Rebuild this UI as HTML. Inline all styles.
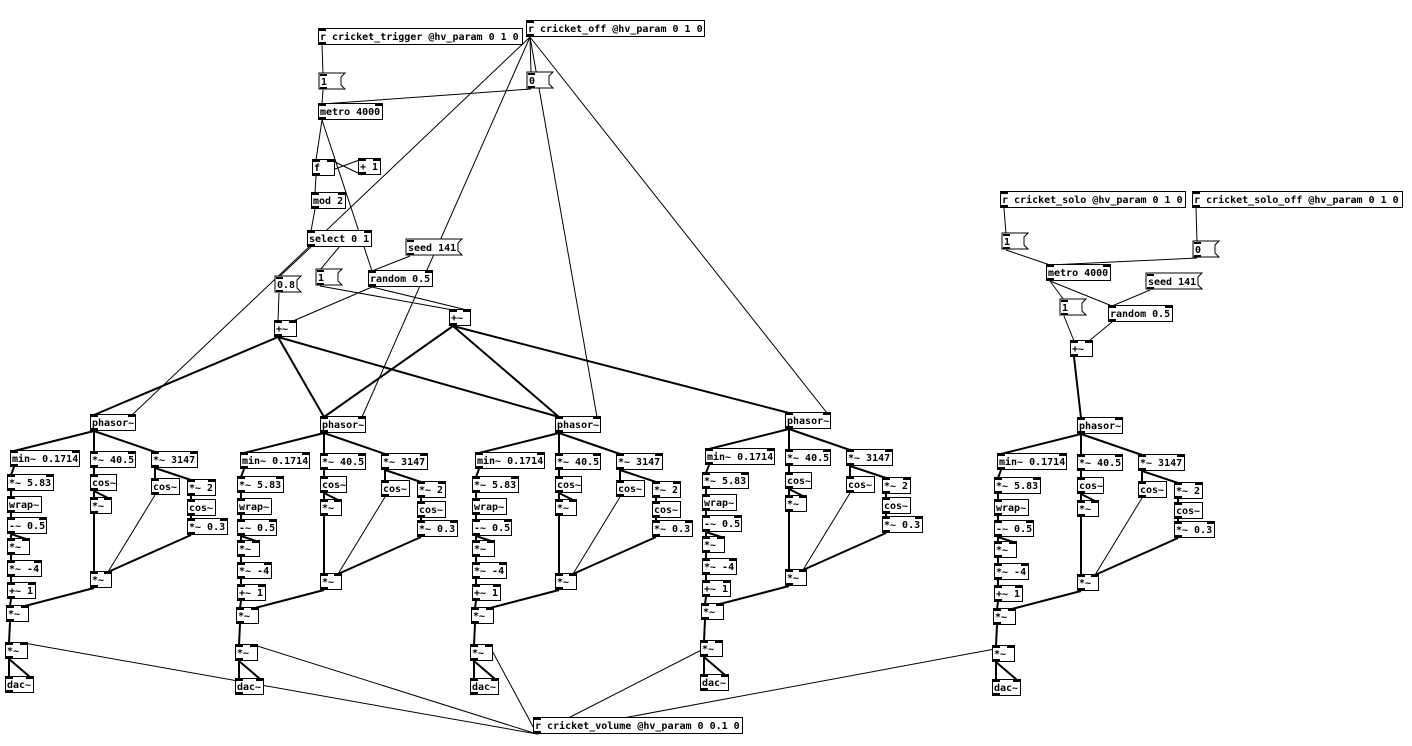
<!DOCTYPE html>
<html><head><meta charset="utf-8"><style>
html,body{margin:0;padding:0;background:#fff;width:1412px;height:746px;overflow:hidden}
svg text{font-family:"DejaVu Sans Mono","Liberation Mono",monospace;font-size:10px;font-weight:bold;fill:#000}
</style></head><body>
<svg id="s" width="1412" height="746" xmlns="http://www.w3.org/2000/svg"></svg>
<script>
var s=document.getElementById('s');var NS='http://www.w3.org/2000/svg';
var lines=[],boxes=[];
function el(t,a,txt){var e=document.createElementNS(NS,t);for(var k in a)e.setAttribute(k,a[k]);if(txt)e.textContent=txt;return e;}
var L=document.createElementNS(NS,'g'),B=document.createElementNS(NS,'g');s.appendChild(L);s.appendChild(B);
function box(x,y,w,t,msg,twoIn,h){h=h||16;var b={x:x,y:y,w:w,h:h};
 if(msg){B.appendChild(el('polygon',{points:[x,y,x+w+4,y,x+w,y+4,x+w,y+h-4,x+w+4,y+h,x,y+h].join(' '),fill:'#fff',stroke:'#000','stroke-width':1}));}
 else B.appendChild(el('rect',{x:x+.5,y:y+.5,width:w,height:h,fill:'#fff',stroke:'#000','stroke-width':1}));
 B.appendChild(el('rect',{x:x+1,y:y+1,width:7,height:2,fill:'#000'}));
 if(twoIn)B.appendChild(el('rect',{x:x+w-7,y:y+1,width:7,height:2,fill:'#000'}));
 B.appendChild(el('rect',{x:x+1,y:y+h-2,width:7,height:2,fill:'#000'}));
 B.appendChild(el('text',{x:x+2,y:y+12},t));return b;}
function ln(x1,y1,x2,y2,th){L.appendChild(el('line',{x1:x1,y1:y1,x2:x2,y2:y2,stroke:'#000','stroke-width':th?2:1}));}
function out(b){return [b.x+4,b.y+b.h+1]}
function inl(b){return [b.x+4,b.y+1]}
function inr(b){return [b.x+b.w-3,b.y+1]}
function c(a,b,th){ln(a[0],a[1],b[0],b[1],th);}
// top section
var trig=box(318,28,204,'r cricket_trigger @hv_param 0 1 0');
var off=box(526,20,178,'r cricket_off @hv_param 0 1 0');
var m1=box(319,73,22,'1',1),m0=box(527,72,22,'0',1);
var met=box(318,103,64,'metro 4000',0,1);
var f=box(312,159,22,'f',0,1),p1=box(358,158,22,'+ 1',0,1);
var mod=box(311,192,34,'mod 2',0,1);
var sel=box(307,230,64,'select 0 1',0,1);
var seed=box(406,239,52,'seed 141',1);
var m08=box(275,276,22,'0.8',1),m1b=box(316,269,22,'1',1);
var rnd=box(368,270,64,'random 0.5',0,1);
var pl=box(274,320,22,'+~',0,1),pr=box(449,309,21,'+~',0,1);
c(out(trig),inl(m1));c(out(m1),inl(met));c(out(m0),inl(met));c(out(off),inl(m0));
c(out(met),inl(f));c(out(met),inl(rnd));c(out(f),inl(mod));c(out(f),inl(p1));c(out(p1),inr(f));
c(out(mod),inl(sel));c(out(sel),inl(m08));c([sel.x+33,sel.y+16],inl(m1b));c(out(seed),inl(rnd));
c(out(m08),inl(pl));c(out(rnd),inr(pl));c(out(m1b),inl(pr));c(out(rnd),inr(pr));
// right
var so=box(1000,191,185,'r cricket_solo @hv_param 0 1 0'),sof=box(1192,191,210,'r cricket_solo_off @hv_param 0 1 0');
var sm1=box(1002,233,22,'1',1),sm0=box(1193,241,22,'0',1);
var smet=box(1046,264,64,'metro 4000',0,1),sseed=box(1146,273,52,'seed 141',1);
var sm1b=box(1060,299,22,'1',1),srnd=box(1108,305,64,'random 0.5',0,1),spl=box(1070,340,22,'+~',0,1);
c(out(so),inl(sm1));c(out(sof),inl(sm0));c(out(sm1),inl(smet));c(out(sm0),inl(smet));
c(out(smet),inl(sm1b));c(out(smet),inl(srnd));c(out(sseed),inl(srnd));c(out(sm1b),inl(spl));c(out(srnd),inr(spl));
var vol=box(533,717,209,'r cricket_volume @hv_param 0 0.1 0');
function voice(dx,dy){function b(x,y,w,t,two){return box(x+dx,y+dy,w,t,0,two);}
 var P=b(90,414,45,'phasor~',1),M=b(10,450,69,'min~ 0.1714',1),A=b(90,451,45,'*~ 40.5',1),Bx=b(151,451,46,'*~ 3147',1),
 C=b(7,474,46,'*~ 5.83',1),D=b(90,474,26,'cos~'),E=b(151,478,28,'cos~'),F=b(187,479,28,'*~ 2',1),G=b(7,496,34,'wrap~'),
 H=b(90,497,21,'*~',1),I=b(187,499,28,'cos~'),J=b(7,517,39,'-~ 0.5',1),K=b(187,518,40,'*~ 0.3',1),Lq=b(7,538,22,'*~',1),
 N=b(7,560,34,'*~ -4',1),O=b(90,571,21,'*~',1),Q=b(7,582,28,'+~ 1',1),R=b(6,605,22,'*~',1),S=b(5,642,22,'*~',1),T=b(5,676,28,'dac~',1);
 c(out(P),inl(M),1);c(out(P),inl(A),1);c(out(P),inl(Bx),1);c(out(M),inl(C),1);c(out(C),inl(G),1);c(out(G),inl(J),1);
 c(out(J),inl(Lq),1);c(out(J),inr(Lq),1);c(out(Lq),inl(N),1);c(out(N),inl(Q),1);c(out(Q),inl(R),1);
 c(out(A),inl(D),1);c(out(D),inl(H),1);c(out(D),inr(H),1);c(out(H),inl(O),1);c(out(Bx),inl(E),1);c(out(Bx),inl(F),1);
 c(out(E),inr(O));c(out(F),inl(I),1);c(out(I),inl(K),1);c(out(K),inr(O),1);c(out(O),inr(R),1);c(out(R),inl(S),1);
 c(out(S),inl(T),1);c(out(S),inr(T),1);c(out(vol),inr(S));return P;}
var V=[voice(0,0),voice(230,2),voice(465,2),voice(695,-2),voice(987,3)];
c(out(off),inr(V[0]));c(out(off),inr(V[1]));c(out(off),inr(V[2]));c(out(off),inr(V[3]));
c(out(pl),inl(V[0]),1);c(out(pl),inl(V[1]),1);c(out(pl),inl(V[2]),1);
c(out(pr),inl(V[1]),1);c(out(pr),inl(V[2]),1);c(out(pr),inl(V[3]),1);c(out(spl),inl(V[4]),1);
</script>
</body></html>
